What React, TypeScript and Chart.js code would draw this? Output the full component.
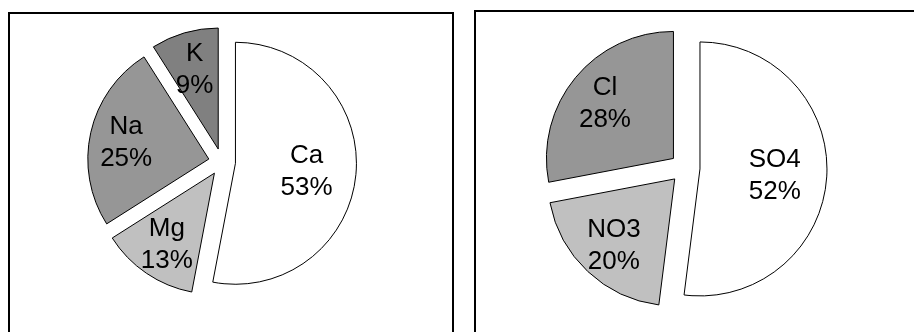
import { useEffect, useRef } from "react";
import { Chart, registerables } from "chart.js";

Chart.register(...registerables);

// Cation shares (%)
const cationLabels = ["Ca", "Mg", "Na", "K"];
const cationValues = [53, 13, 25, 9];
const cationColors = ["#FFFFFF", "#C0C0C0", "#969696", "#808080"];

// Anion shares (%)
const anionLabels = ["SO4", "NO3", "Cl"];
const anionValues = [52, 20, 28];
const anionColors = ["#FFFFFF", "#C0C0C0", "#969696"];

const FONT = "26px 'Liberation Sans', Arial, sans-serif";

// Pushes every slice outward along its bisector, keeping its radius.
const explodePlugin = {
  id: "explodeSlices",
  afterDatasetUpdate(chart: any, args: any, opts: any) {
    const d = opts?.distance ?? 0;
    for (const el of args.meta.data) {
      const mid = (el.startAngle + el.endAngle) / 2;
      el.x += Math.cos(mid) * d;
      el.y += Math.sin(mid) * d;
    }
  },
};

// Two-line "name / percent" label inside each slice.
const sliceLabelPlugin = {
  id: "sliceLabels",
  afterDatasetsDraw(chart: any) {
    const ctx = chart.ctx;
    const meta = chart.getDatasetMeta(0);
    const ds = chart.data.datasets[0];
    const total = ds.data.reduce((a: number, b: number) => a + b, 0);
    ctx.save();
    ctx.font = FONT;
    ctx.fillStyle = "#000";
    ctx.textAlign = "center";
    ctx.textBaseline = "alphabetic";
    meta.data.forEach((el: any, i: number) => {
      const v = ds.data[i];
      const share = v / total;
      const frac = share > 0.5 ? 0.59 : 0.7;
      const mid = (el.startAngle + el.endAngle) / 2;
      const r = el.outerRadius * frac;
      const x = el.x + Math.cos(mid) * r;
      const y = el.y + Math.sin(mid) * r;
      ctx.fillText(String(chart.data.labels[i]), x, y - 16 + 9);
      ctx.fillText(`${Math.round(share * 100)}%`, x, y + 16 + 9);
    });
    ctx.restore();
  },
};

type PieProps = {
  labels: string[];
  values: number[];
  colors: string[];
  radius: number;
  explode: number;
  left: number;
  top: number;
  size: number;
};

function Pie({ labels, values, colors, radius, explode, left, top, size }: PieProps) {
  const ref = useRef<HTMLCanvasElement | null>(null);
  useEffect(() => {
    if (!ref.current) return;
    const chart = new Chart(ref.current, {
      type: "pie",
      data: {
        labels,
        datasets: [
          {
            data: values,
            backgroundColor: colors,
            borderColor: "#000",
            borderWidth: 1,
          },
        ],
      },
      options: {
        responsive: false,
        animation: false,
        events: [],
        radius,
        layout: { padding: 0 },
        plugins: {
          legend: { display: false },
          tooltip: { enabled: false },
          explodeSlices: { distance: explode },
        } as any,
      },
      plugins: [explodePlugin, sliceLabelPlugin],
    });
    return () => chart.destroy();
  }, []);
  return (
    <canvas
      ref={ref}
      width={size}
      height={size}
      style={{ position: "absolute", left, top, width: size, height: size }}
    />
  );
}

export default function App() {
  useEffect(() => {
    document.body.style.margin = "0";
  }, []);
  return (
    <div
      style={{
        position: "fixed",
        left: 0,
        top: 0,
        width: 914,
        height: 332,
        overflow: "hidden",
        background: "#fff",
      }}
    >
      <div
        style={{
          position: "absolute",
          left: 8,
          top: 12,
          width: 446,
          height: 360,
          boxSizing: "border-box",
          border: "2px solid #000",
        }}
      />
      <div
        style={{
          position: "absolute",
          left: 474,
          top: 10,
          width: 480,
          height: 360,
          boxSizing: "border-box",
          border: "2px solid #000",
        }}
      />
      <Pie
        labels={cationLabels}
        values={cationValues}
        colors={cationColors}
        radius={121}
        explode={13.5}
        left={72}
        top={12}
        size={300}
      />
      <Pie
        labels={anionLabels}
        values={anionValues}
        colors={anionColors}
        radius={127}
        explode={15}
        left={535}
        top={18}
        size={300}
      />
    </div>
  );
}
